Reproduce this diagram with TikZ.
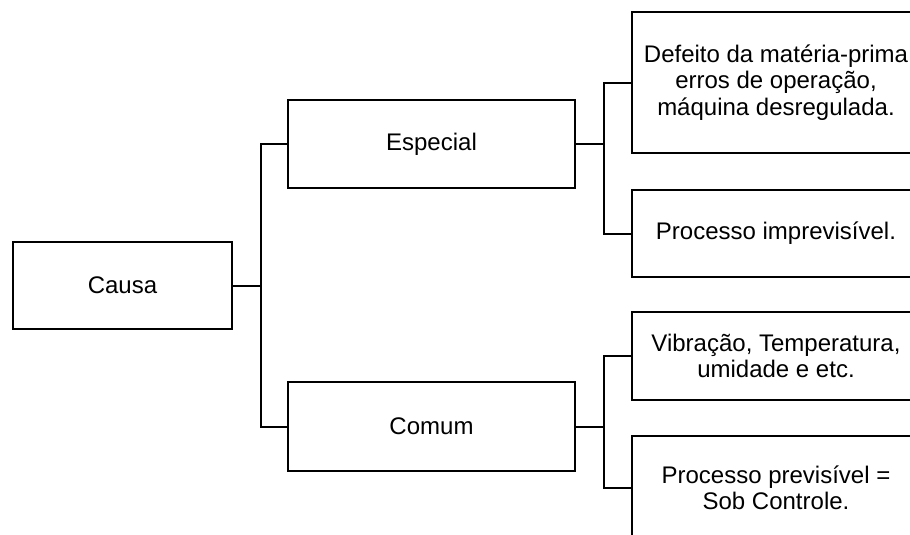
\documentclass[tikz,border=0pt]{standalone}
\usepackage{fontspec}
\setmainfont{Liberation Sans}
\usepackage{tikz}
\usetikzlibrary{positioning}
\tikzset{
    % Base style for all boxes
    causebox/.style={
        draw=black,
        line width=2pt,
        rectangle,
        align=center,
        inner sep=0pt,
        font=\fontsize{24}{26.5}\selectfont,
    },
    % Leaf boxes on the right
    leafbox/.style={
        causebox,
        minimum width=288pt,
    },
    % Elbow connectors
    link/.style={
        draw=black,
        line width=2pt,
    },
}
\begin{document}
\begin{tikzpicture}[x=1pt, y=-1pt]
    \clip (0,0) rectangle (910,535);
    \fill[white] (0,0) rectangle (910,535);

    \node (causa) [causebox, minimum width=219pt, minimum height=87pt] at (122.5,285.5) {Causa};
    \node (especial) [causebox, minimum width=287pt, minimum height=88pt] at (431.5,144) {Especial};
    \node (comum) [causebox, minimum width=287pt, minimum height=89pt] at (431.5,426.5) {Comum};

    \node (defeito) [leafbox, minimum height=141pt] at (776,82.5) {Defeito da matéria-prima\\erros de operação,\\máquina desregulada.};
    \node (impre) [leafbox, minimum height=87pt] at (776,233.5) {Processo imprevisível.};
    \node (vibra) [leafbox, minimum height=88pt] at (776,356) {Vibração, Temperatura,\\umidade e etc.};
    \node (previ) [leafbox, minimum height=104pt] at (776,488) {Processo previsível =\\Sob Controle.};

    \draw [link] (causa.east) -- ++(28,0) |- (especial.west);
    \draw [link] (causa.east) -- ++(28,0) |- (comum.west);
    \draw [link] (especial.east) -- ++(28,0) |- (defeito.west);
    \draw [link] (especial.east) -- ++(28,0) |- (impre.west);
    \draw [link] (comum.east) -- ++(28,0) |- (vibra.west);
    \draw [link] (comum.east) -- ++(28,0) |- (previ.west);
\end{tikzpicture}
\end{document}
